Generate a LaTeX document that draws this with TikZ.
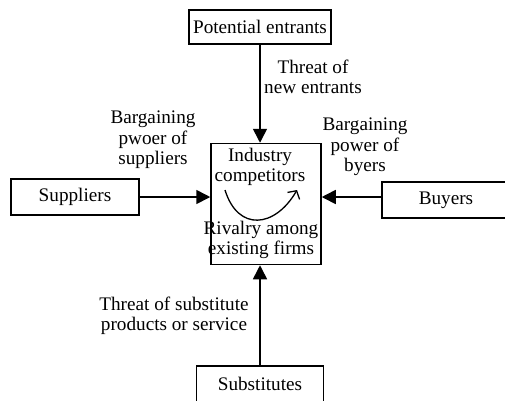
\documentclass[tikz,border=0pt]{standalone}
\usepackage{fontspec}
\setmainfont{Liberation Serif}
\usetikzlibrary{arrows.meta}

\begin{document}
\begin{tikzpicture}[x = 1pt, y = -1pt,
	font = \fontsize{19.2}{20.5}\selectfont,
	box/.style = {draw, line width = 1.5pt, inner sep = 0pt, minimum height = 36pt},
	lbl/.style = {align = center, inner sep = 0pt},
	arr/.style = {line width = 1.6pt, -{Triangle[length = 14pt, width = 14pt]}}]

	\useasboundingbox (0, 0) rectangle (505, 400);
	\clip (0, 0) rectangle (505, 400);

	% Industry competitors
	
	\node [box, minimum width = 110pt, minimum height = 121pt] (core) at (266, 204) {};
	\node [lbl] (industry) at (260, 167) {Industry\\competitors};
	\node [lbl] (rivalry) at (261, 240) {Rivalry among\\existing firms};
	\draw [line width = 1.3pt, -{Straight Barb[length = 6pt, width = 14pt]}]
		(225, 190) .. controls (238, 232) and (275, 228) .. (297, 190);

	% Five forces
	
	\node [box, minimum width = 142pt, minimum height = 34pt] (entrants) at (260, 27) {Potential entrants};
	\node [box, minimum width = 128pt] (suppliers) at (75, 197) {Suppliers};
	\node [box, minimum width = 128pt] (buyers) at (446, 200) {Buyers};
	\node [box, minimum width = 127pt] (substitutes) at (260, 384) {Substitutes};

	\draw [arr] (entrants) -- (entrants |- core.north);
	\draw [arr] (substitutes) -- (substitutes |- core.south);
	\draw [arr] (suppliers) -- (suppliers -| core.west);
	\draw [arr] (buyers.west |- suppliers) -- (suppliers -| core.east);

	% Labels
	
	\node [lbl] (threatnew) at (313, 77) {Threat of\\new entrants};
	\node [lbl] (powersup) at (153, 140) {Bargaining\\pwoer of\\suppliers};
	\node [lbl] (powerbuy) at (365, 147) {Bargaining\\power of\\byers};
	\node [lbl] (threatsub) at (174, 316) {Threat of substitute\\products or service};

\end{tikzpicture}
\end{document}
